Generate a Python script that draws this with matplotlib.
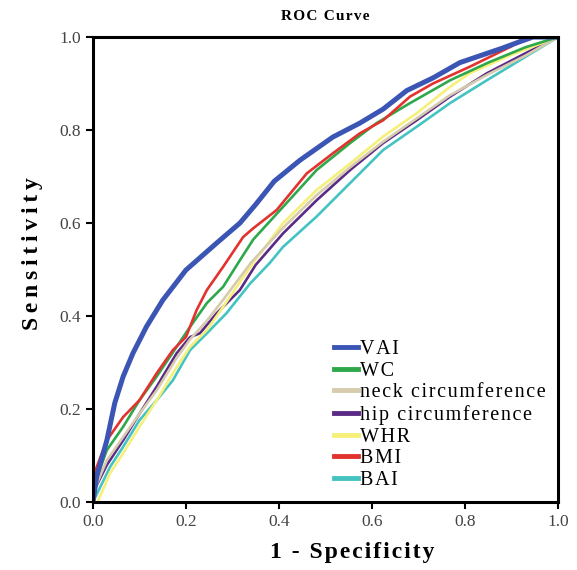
import matplotlib
matplotlib.use("Agg")
import matplotlib.pyplot as plt
from matplotlib.lines import Line2D

plt.rcParams['font.family'] = ['Liberation Serif', 'DejaVu Serif']

# --- ROC points (1 - specificity, sensitivity) ---
vai_x = [0.0, 0.008, 0.03, 0.047, 0.065, 0.086, 0.115, 0.15, 0.2, 0.266, 0.316, 0.35,
         0.39, 0.445, 0.516, 0.574, 0.624, 0.675, 0.731, 0.789, 0.88, 0.918, 0.946, 1.0]
vai_y = [0.0, 0.054, 0.133, 0.213, 0.27, 0.32, 0.377, 0.434, 0.499, 0.557, 0.600, 0.640,
         0.690, 0.735, 0.785, 0.815, 0.845, 0.885, 0.912, 0.945, 0.976, 0.99, 1.0, 1.0]

wc_x = [0.0, 0.03, 0.065, 0.1, 0.137, 0.18, 0.209, 0.245, 0.28, 0.316, 0.345, 0.409,
        0.481, 0.553, 0.61, 0.682, 0.768, 0.85, 0.93, 1.0]
wc_y = [0.03, 0.112, 0.162, 0.219, 0.27, 0.334, 0.377, 0.428, 0.463, 0.52, 0.565, 0.635,
        0.714, 0.772, 0.815, 0.858, 0.907, 0.945, 0.978, 1.0]

neck_x = [0.0, 0.03, 0.065, 0.1, 0.137, 0.18, 0.209, 0.245, 0.28, 0.34, 0.409,
          0.481, 0.553, 0.624, 0.696, 0.768, 0.85, 0.93, 1.0]
neck_y = [0.02, 0.09, 0.14, 0.19, 0.24, 0.31, 0.35, 0.39, 0.435, 0.515, 0.59,
          0.66, 0.72, 0.775, 0.825, 0.875, 0.92, 0.96, 1.0]

hip_x = [0.0, 0.03, 0.065, 0.1, 0.137, 0.18, 0.209, 0.23, 0.266, 0.316, 0.35, 0.409,
         0.481, 0.553, 0.624, 0.696, 0.768, 0.847, 0.93, 1.0]
hip_y = [0.02, 0.08, 0.133, 0.19, 0.248, 0.32, 0.355, 0.363, 0.406, 0.456, 0.51, 0.578,
         0.649, 0.714, 0.772, 0.821, 0.872, 0.922, 0.965, 1.0]

whr_x = [0.0, 0.01, 0.037, 0.065, 0.1, 0.137, 0.18, 0.209, 0.245, 0.28, 0.345, 0.409,
         0.481, 0.553, 0.624, 0.696, 0.768, 0.81, 0.9, 1.0]
whr_y = [0.0, 0.0, 0.062, 0.105, 0.162, 0.219, 0.29, 0.334, 0.37, 0.42, 0.515, 0.60,
         0.671, 0.728, 0.786, 0.836, 0.893, 0.922, 0.962, 1.0]

bmi_x = [0.0, 0.03, 0.065, 0.1, 0.137, 0.172, 0.2, 0.223, 0.245, 0.28, 0.323, 0.345,
         0.395, 0.46, 0.516, 0.574, 0.624, 0.682, 0.731, 0.81, 0.9, 0.93, 1.0]
bmi_y = [0.054, 0.133, 0.183, 0.219, 0.277, 0.327, 0.355, 0.413, 0.456, 0.506, 0.57, 0.589,
         0.628, 0.707, 0.75, 0.793, 0.821, 0.872, 0.90, 0.936, 0.98, 1.0, 1.0]

bai_x = [0.0, 0.037, 0.065, 0.1, 0.137, 0.172, 0.209, 0.245, 0.287, 0.338, 0.38, 0.409,
         0.481, 0.553, 0.624, 0.696, 0.768, 0.847, 0.954, 1.0]
bai_y = [0.0, 0.076, 0.119, 0.176, 0.219, 0.262, 0.327, 0.363, 0.406, 0.47, 0.514, 0.549,
         0.614, 0.686, 0.757, 0.807, 0.858, 0.907, 0.972, 1.0]

series = [
    ("VAI", vai_x, vai_y, "#3b55b5", 3.6),
    ("WC", wc_x, wc_y, "#2ea84a", 1.9),
    ("neck circumference", neck_x, neck_y, "#d6ccad", 1.9),
    ("hip circumference", hip_x, hip_y, "#5b2a86", 1.9),
    ("WHR", whr_x, whr_y, "#f6f07a", 1.9),
    ("BMI", bmi_x, bmi_y, "#e2332f", 1.9),
    ("BAI", bai_x, bai_y, "#45c3c3", 1.9),
]


def spaced(s, sep='\u200a'):
    # the reference text is letter-spaced
    return sep.join(s)


fig = plt.figure(figsize=(5.77, 5.70), dpi=100)
ax = fig.add_axes([0.161, 0.119, 0.806, 0.816])

# thin curves first so VAI sits on top
order = [6, 3, 4, 2, 1, 5, 0]
for i in order:
    name, xs, ys, col, lw = series[i]
    ax.plot(xs, ys, color=col, lw=lw, solid_joinstyle='round')

ax.set_xlim(0, 1)
ax.set_ylim(0, 1)
ax.set_xticks([0.0, 0.2, 0.4, 0.6, 0.8, 1.0])
ax.set_yticks([0.0, 0.2, 0.4, 0.6, 0.8, 1.0])
ax.xaxis.set_major_formatter(plt.FormatStrFormatter('%.1f'))
ax.yaxis.set_major_formatter(plt.FormatStrFormatter('%.1f'))
ax.tick_params(direction='out', length=5, width=1.5, labelsize=12.5,
               labelcolor='#444444', top=False, right=False)
for sp in ax.spines.values():
    sp.set_linewidth(2.2)

ax.set_title(spaced("ROC Curve"), fontsize=11, fontweight='bold', pad=12)
ax.set_xlabel(spaced("1 - Specificity"), fontsize=17, fontweight='bold')
ax.set_ylabel(spaced("Sensitivity", '\u2009'), fontsize=17, fontweight='bold')
ax.xaxis.set_label_coords(0.557, -0.085)
ax.yaxis.set_label_coords(-0.108, 0.535)

# --- legend ---
handles = [Line2D([0], [0], color=s[3], lw=3.5) for s in series]
labels = [spaced(s[0]) for s in series]
ax.legend(handles, labels, loc='lower right', bbox_to_anchor=(1.0, 0.0),
          frameon=False, fontsize=14.5, handlelength=1.2, handletextpad=0.1,
          labelspacing=0.13, borderaxespad=0.2)

fig.savefig("out.png", dpi=100)
